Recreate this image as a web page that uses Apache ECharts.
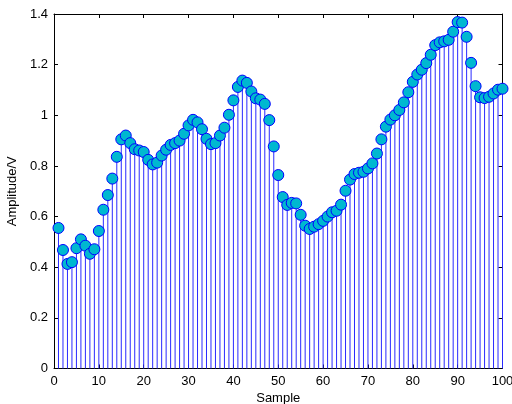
<!DOCTYPE html>
<html><head><meta charset="utf-8">
<script src="https://cdn.jsdelivr.net/npm/echarts@6/dist/echarts.min.js"></script>
<style>html,body{margin:0;padding:0;background:#fff}#c{width:512px;height:404px}</style>
</head><body><div id="c"></div>
<script>
const samples = [];
for (let i = 1; i <= 100; i++) samples.push(i);
const amplitude = [
0.555,0.468,0.413,0.420,0.475,0.510,0.485,0.453,0.471,0.543,
0.627,0.685,0.750,0.836,0.905,0.920,0.890,0.866,0.861,0.855,
0.824,0.806,0.813,0.841,0.864,0.883,0.890,0.900,0.927,0.960,
0.982,0.972,0.945,0.907,0.886,0.890,0.920,0.951,1.002,1.059,
1.112,1.137,1.128,1.094,1.067,1.062,1.045,0.981,0.877,0.764,
0.677,0.646,0.654,0.652,0.607,0.564,0.551,0.560,0.570,0.583,
0.600,0.617,0.623,0.647,0.702,0.746,0.768,0.773,0.777,0.790,
0.810,0.849,0.905,0.955,0.983,1.000,1.021,1.051,1.091,1.132,
1.161,1.180,1.206,1.239,1.277,1.288,1.292,1.298,1.330,1.368,
1.366,1.310,1.207,1.115,1.071,1.068,1.073,1.086,1.101,1.105];
const xTicks = [0,10,20,30,40,50,60,70,80,90,100];
const yTicks = [0,0.2,0.4,0.6,0.8,1,1.2,1.4];

const pts = samples.map((s, i) => [s, amplitude[i]]);
const font = 'Liberation Sans, Arial, sans-serif';
const axisLine = {show: true, onZero: false, lineStyle: {color: '#000', width: 1}};
const tick = {show: true, inside: true, length: 4, lineStyle: {color: '#000'}};

const chart = echarts.init(document.getElementById('c'), null, {renderer: 'canvas'});
chart.setOption({
  animation: false,
  backgroundColor: '#fff',
  grid: {left: 54, right: 9.5, top: 14, bottom: 35.5, containLabel: false, outerBoundsMode: 'none'},
  xAxis: [{
    type: 'value', min: 0, max: 100, interval: 10, position: 'bottom',
    name: 'Sample', nameLocation: 'middle', nameGap: 21,
    nameTextStyle: {color: '#000', fontSize: 13, fontFamily: font},
    axisLine: axisLine, axisTick: tick, splitLine: {show: false},
    axisLabel: {color: '#000', fontSize: 13, fontFamily: font, margin: 6, hideOverlap: false,
      formatter: v => xTicks.includes(v) ? String(v) : ''}
  }, {
    type: 'value', min: 0, max: 100, interval: 10, position: 'top',
    axisLine: axisLine, axisTick: tick, splitLine: {show: false}, axisLabel: {show: false}
  }],
  yAxis: [{
    type: 'value', min: 0, max: 1.4, interval: 0.2, position: 'left',
    name: 'Amplitude/V', nameLocation: 'middle', nameGap: 31, nameRotate: 90,
    nameTextStyle: {color: '#000', fontSize: 13, fontFamily: font},
    axisLine: axisLine, axisTick: tick, splitLine: {show: false},
    axisLabel: {color: '#000', fontSize: 13, fontFamily: font, margin: 6,
      formatter: v => { const t = yTicks.find(y => Math.abs(y - v) < 1e-9); return t === undefined ? '' : String(t); }}
  }, {
    type: 'value', min: 0, max: 1.4, interval: 0.2, position: 'right',
    axisLine: axisLine, axisTick: tick, splitLine: {show: false}, axisLabel: {show: false}
  }],
  series: [{
    type: 'bar', data: pts, barWidth: 1, xAxisIndex: 0, yAxisIndex: 0,
    itemStyle: {color: '#2a2aff'}, z: 2
  }, {
    type: 'scatter', data: pts, symbol: 'circle', symbolSize: 11, xAxisIndex: 0, yAxisIndex: 0,
    itemStyle: {color: '#00b8d0', borderColor: '#0000ff', borderWidth: 1, opacity: 1}, z: 3
  }]
});
</script></body></html>
